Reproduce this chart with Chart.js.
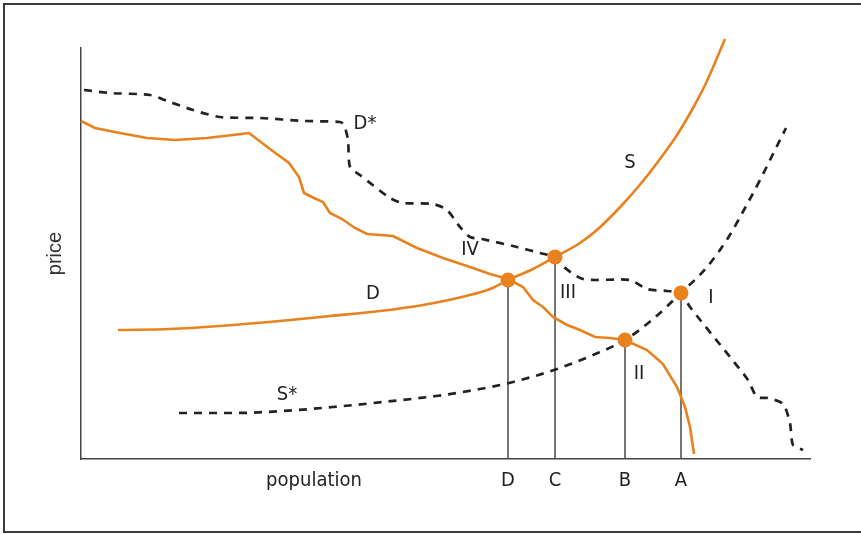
<!DOCTYPE html>
<html>
<head>
<meta charset="utf-8">
<script src="https://cdn.jsdelivr.net/npm/chart.js@4/dist/chart.umd.min.js"></script>
<style>
  html, body { margin: 0; padding: 0; background: #fff; overflow: hidden; }
  #frame {
    position: absolute; left: 3px; top: 3px; width: 880px; height: 526px;
    border: 2px solid #3a3a3a;
  }
  #wrap { position: absolute; left: 0; top: 0; width: 861px; height: 534px; }
</style>
</head>
<body>
<div id="frame"></div>
<div id="wrap"><canvas id="chart"></canvas></div>
<script>
// demand D (solid orange)
const demandPop = [0, 14, 39, 66, 94, 126, 152, 168, 189, 208, 218, 223, 233, 242, 249, 261, 274, 286, 312, 336, 362, 389, 409, 427, 442, 452, 462, 472, 486, 499, 514, 529, 544, 566, 582, 596, 604, 609, 613];
const demandPrice = [338, 331, 326, 321, 319, 321, 324, 326, 310, 296, 282, 266, 261, 257, 246, 240, 231, 225, 223, 211, 201, 192, 185, 180, 172, 159, 152, 142, 134, 129, 122, 121, 119, 109, 95, 72, 52, 32, 5];

// supply S (solid orange)
const supplyPop = [37, 89, 139, 199, 249, 299, 342, 385, 409, 427, 452, 474, 499, 517, 542, 562, 579, 596, 612, 626, 636, 644];
const supplyPrice = [129, 130, 133, 138, 143, 148, 154, 163, 170, 179, 190, 202, 216, 230, 255, 278, 300, 324, 351, 378, 401, 420];

// supply S* (dashed)
const supply2Pop = [98, 152, 202, 252, 302, 355, 399, 432, 476, 512, 544, 572, 600, 626, 647, 664, 679, 692, 705];
const supply2Price = [46, 46, 48, 52, 57, 63, 70, 77, 90, 104, 119, 140, 166, 192, 221, 251, 279, 305, 331];

// demand D* (dashed)
const demand2Pop = [3, 29, 69, 86, 112, 139, 179, 224, 259, 263, 267, 269, 279, 309, 322, 352, 366, 379, 389, 401, 436, 459, 474, 479, 502, 549, 566, 586, 600, 609, 649, 667, 676, 687, 702, 709, 712, 722];
const demand2Price = [369, 366, 364, 358, 349, 342, 341, 338, 337, 334, 319, 292, 284, 261, 256, 255, 249, 232, 222, 220, 212, 206, 202, 195, 180, 179, 170, 168, 166, 152, 102, 79, 62, 61, 55, 36, 14, 9];

// equilibrium points
const eqLabels = ["D", "C", "B", "A"];
const eqPop = [427, 474, 544, 600];
const eqPrice = [179, 202, 119, 166];

// curve / region labels
const noteText = ["D*", "S", "IV", "D", "III", "I", "II", "S*"];
const notePop = [284, 549, 389, 292, 487, 630, 558, 206];
const notePrice = [335, 296, 209, 165, 166, 161, 85, 64];

const xTitlePop = 233;

const ORANGE = "#E8821E";
const INK = "#222222";
const narrow = "'DejaVu Sans Condensed', 'DejaVu Sans', sans-serif";

const pts = (xs, ys) => xs.map((x, i) => ({ x, y: ys[i] }));

// first dataset is painted last (on top)
const datasets = [
  {
    label: "equilibria", data: pts(eqPop, eqPrice), showLine: false,
    pointRadius: 7.5, pointBackgroundColor: ORANGE, pointBorderWidth: 0,
  },
  {
    label: "S", data: pts(supplyPop, supplyPrice),
    borderColor: ORANGE, borderWidth: 2.6, pointRadius: 0, cubicInterpolationMode: "monotone",
  },
  {
    label: "D", data: pts(demandPop, demandPrice),
    borderColor: ORANGE, borderWidth: 2.6, pointRadius: 0, tension: 0,
  },
  {
    label: "S*", data: pts(supply2Pop, supply2Price),
    borderColor: INK, borderWidth: 2.7, borderDash: [8, 7], pointRadius: 0, cubicInterpolationMode: "monotone",
  },
  {
    label: "D*", data: pts(demand2Pop, demand2Price),
    borderColor: INK, borderWidth: 2.7, borderDash: [8, 7], pointRadius: 0, tension: 0.25,
  },
];
// drop lines from each equilibrium to the axis
eqPop.forEach((p, i) => {
  datasets.push({
    data: [{ x: p, y: eqPrice[i] }, { x: p, y: 0 }],
    borderColor: "#4a4a4a", borderWidth: 1.5, pointRadius: 0, tension: 0,
  });
});
datasets.forEach((d) => { d.clip = false; });

// text labels placed in data space
const notesPlugin = {
  id: "notes",
  afterDatasetsDraw(chart) {
    const { ctx, scales: { x, y } } = chart;
    ctx.save();
    ctx.fillStyle = INK;
    ctx.font = "20px " + narrow;
    ctx.textAlign = "center";
    ctx.textBaseline = "middle";
    noteText.forEach((t, i) => {
      ctx.fillText(t, x.getPixelForValue(notePop[i]), y.getPixelForValue(notePrice[i]));
    });
    ctx.restore();
  },
};

const tickPops = [xTitlePop, ...eqPop];
const tickText = ["population", ...eqLabels];

new Chart(document.getElementById("chart"), {
  type: "line",
  data: { datasets },
  options: {
    responsive: true,
    maintainAspectRatio: false,
    animation: false,
    events: [],
    layout: { padding: { left: 33, right: 51, top: 48, bottom: 31 } },
    plugins: { legend: { display: false }, tooltip: { enabled: false } },
    scales: {
      x: {
        type: "linear", min: 0, max: 729,
        grid: { display: false, drawTicks: false },
        border: { display: true, color: "#444", width: 1.5 },
        afterBuildTicks: (axis) => { axis.ticks = tickPops.map((v) => ({ value: v })); },
        ticks: {
          autoSkip: false, maxRotation: 0, padding: 10,
          color: INK, font: { family: narrow, size: 20 },
          callback: (v, i) => tickText[i],
        },
      },
      y: {
        type: "linear", min: 0, max: 411,
        grid: { display: false, drawTicks: false },
        border: { display: true, color: "#444", width: 1.5 },
        ticks: { display: false },
        title: {
          display: true, text: "price", color: "#333",
          font: { family: "'Liberation Sans', Arial, sans-serif", size: 20 },
          padding: { top: 10, bottom: 14 },
        },
      },
    },
  },
  plugins: [notesPlugin],
});
</script>
</body>
</html>
